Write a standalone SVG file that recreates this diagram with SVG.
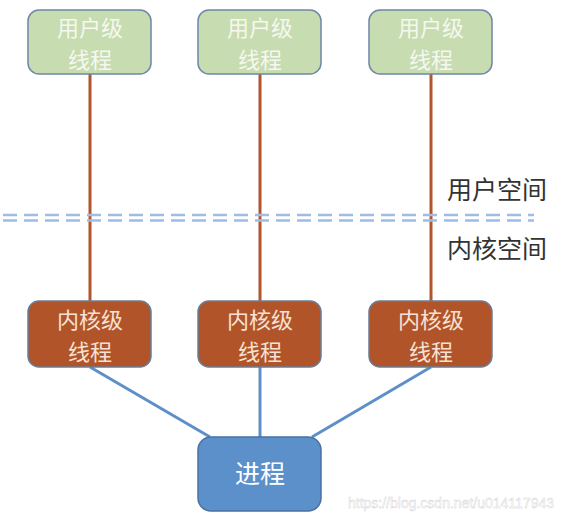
<svg xmlns="http://www.w3.org/2000/svg" width="562" height="522" viewBox="0 0 562 522">
<style>
.u{fill:#c8dcb2;stroke:#6f87a6;stroke-width:1.5}
.k{fill:#b1542a;stroke:#6b7d95;stroke-width:1.5}
.p{fill:#5b90ca;stroke:#4a72a0;stroke-width:1.5}
.t{font-family:"Noto Sans CJK SC","Liberation Sans",sans-serif;font-size:22px;text-anchor:middle}
.tp2{font-family:"Noto Sans CJK SC","Liberation Sans",sans-serif;font-size:25px;text-anchor:middle;fill:#ffffff}
.tu{fill:#f4f8ee}
.tk{fill:#f6e2d4}
.lbl{font-family:"Noto Sans CJK SC","Liberation Sans",sans-serif;font-size:25px;fill:#333}
.r{stroke:#b0552c;stroke-width:3;fill:none}
.b{stroke:#5e8fc8;stroke-width:3;fill:none}
.d{stroke:#9fbde3;stroke-width:2.5;stroke-dasharray:14 7;fill:none}
</style>
<rect width="562" height="522" fill="#ffffff"/>
<g id="connectors">
<line class="r" x1="90" y1="74" x2="90" y2="301"/>
<line class="r" x1="260" y1="74" x2="260" y2="301"/>
<line class="r" x1="431" y1="74" x2="431" y2="301"/>
<line class="b" x1="90" y1="367" x2="210" y2="437"/>
<line class="b" x1="260" y1="367" x2="260" y2="437"/>
<line class="b" x1="431" y1="367" x2="312" y2="437"/>
</g>
<g id="divider">
<line class="d" x1="3" y1="215" x2="534" y2="215"/>
<line class="d" x1="3" y1="220.5" x2="534" y2="220.5"/>
</g>
<g id="user1"><rect class="u" x="28" y="10" width="123" height="64" rx="11"/><text class="t tu" x="90" y="36">用户级</text><text class="t tu" x="90" y="68">线程</text></g>
<g id="user2"><rect class="u" x="198" y="10" width="123" height="64" rx="11"/><text class="t tu" x="260" y="36">用户级</text><text class="t tu" x="260" y="68">线程</text></g>
<g id="user3"><rect class="u" x="369" y="10" width="123" height="64" rx="11"/><text class="t tu" x="431" y="36">用户级</text><text class="t tu" x="431" y="68">线程</text></g>
<g id="kernel1"><rect class="k" x="28" y="301" width="123" height="66" rx="11"/><text class="t tk" x="90" y="328">内核级</text><text class="t tk" x="90" y="360">线程</text></g>
<g id="kernel2"><rect class="k" x="198" y="301" width="123" height="66" rx="11"/><text class="t tk" x="260" y="328">内核级</text><text class="t tk" x="260" y="360">线程</text></g>
<g id="kernel3"><rect class="k" x="369" y="301" width="123" height="66" rx="11"/><text class="t tk" x="431" y="328">内核级</text><text class="t tk" x="431" y="360">线程</text></g>
<g id="process"><rect class="p" x="198" y="437" width="123" height="74" rx="13"/><text class="tp2" x="260" y="483">进程</text></g>
<g id="labels">
<text class="lbl" x="447" y="199">用户空间</text>
<text class="lbl" x="447" y="258">内核空间</text>
</g>
<text x="554" y="508" font-family="Liberation Sans, Arial, sans-serif" font-size="14" fill="#ffffff" fill-opacity="0.85" text-anchor="end" stroke="#cfcfcf" stroke-width="0.4">https://blog.csdn.net/u014117943</text>
</svg>
